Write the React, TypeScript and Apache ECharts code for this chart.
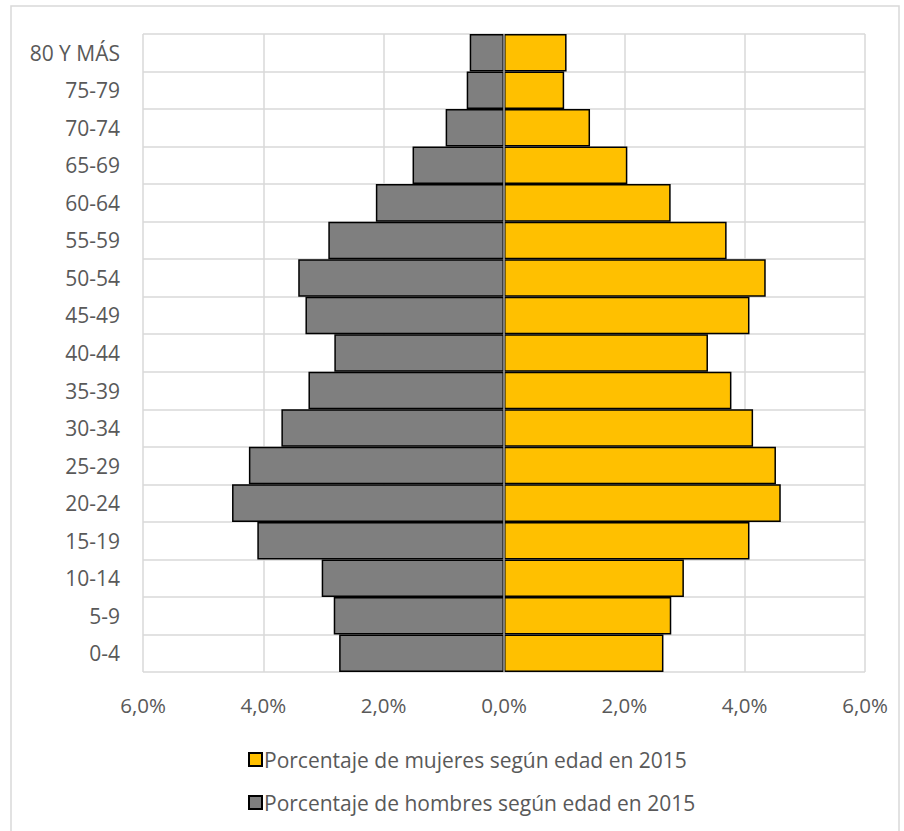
import React, { useEffect, useRef } from "react";
import * as echarts from "echarts";

const categories = ["0-4", "5-9", "10-14", "15-19", "20-24", "25-29", "30-34", "35-39", "40-44", "45-49", "50-54", "55-59", "60-64", "65-69", "70-74", "75-79", "80 Y MÁS"];
const mujeres = [2.65, 2.78, 2.99, 4.08, 4.6, 4.52, 4.14, 3.78, 3.39, 4.08, 4.35, 3.7, 2.77, 2.05, 1.43, 1.0, 1.04];
const hombres = [2.74, 2.83, 3.03, 4.1, 4.52, 4.24, 3.7, 3.25, 2.82, 3.3, 3.42, 2.92, 2.13, 1.52, 0.97, 0.62, 0.57];
const seriesNames = ["Porcentaje de mujeres según edad en 2015", "Porcentaje de hombres según edad en 2015"];

const FONT = "Open Sans";
const TEXT = "#595959";

export default function App() {
  const ref = useRef<HTMLDivElement>(null);
  useEffect(() => {
    const chart = echarts.init(ref.current!, null, { renderer: "svg" });
    chart.setOption({
      animation: false,
      backgroundColor: "#ffffff",
      textStyle: { fontFamily: FONT },
      graphic: [
        {
          type: "rect",
          shape: { x: 11, y: 6, width: 888, height: 840 },
          style: { fill: "none", stroke: "#d9d9d9", lineWidth: 1.5 },
          silent: true,
        },
      ],
      grid: { left: 143, top: 34, right: 39, bottom: 159, containLabel: false },
      xAxis: {
        type: "value",
        min: -6,
        max: 6,
        interval: 2,
        axisLine: { show: false },
        axisTick: { show: false },
        splitLine: { show: true, lineStyle: { color: "#d9d9d9", width: 1.5 } },
        axisLabel: {
          color: TEXT,
          fontSize: 20.5,
          fontFamily: FONT,
          margin: 22,
          formatter: (v: number) => Math.abs(v).toFixed(1).replace(".", ",") + "%",
        },
      },
      yAxis: {
        type: "category",
        data: categories,
        axisLine: { show: false },
        axisTick: { show: false },
        splitLine: { show: true, lineStyle: { color: "#d9d9d9", width: 1.5 } },
        axisLabel: { color: TEXT, fontSize: 21, fontFamily: FONT, margin: 23 },
      },
      legend: {
        orient: "vertical",
        left: 243,
        top: 744,
        itemGap: 22,
        itemWidth: 13,
        itemHeight: 13,
        icon: "rect",
        textStyle: { color: TEXT, fontSize: 21, fontFamily: FONT, padding: [0, 0, 0, -3] },
        data: seriesNames,
      },
      series: [
        {
          name: seriesNames[0],
          type: "bar",
          data: mujeres,
          barGap: "-100%",
          barCategoryGap: 0,
          itemStyle: { color: "#ffc000", borderColor: "#000000", borderWidth: 1.5 },
          markLine: {
            silent: true,
            symbol: "none",
            label: { show: false },
            lineStyle: { color: "#a6a6a6", width: 1.5, type: "solid" },
            data: [{ xAxis: 0 }],
            z: 10,
          },
        },
        {
          name: seriesNames[1],
          type: "bar",
          data: hombres.map((v) => -v),
          barCategoryGap: 0,
          itemStyle: { color: "#7f7f7f", borderColor: "#000000", borderWidth: 1.5 },
        },
      ],
    });
    return () => chart.dispose();
  }, []);
  return (
    <div
      ref={ref}
      style={{ position: "fixed", left: 0, top: 0, width: 904, height: 831 }}
    />
  );
}
